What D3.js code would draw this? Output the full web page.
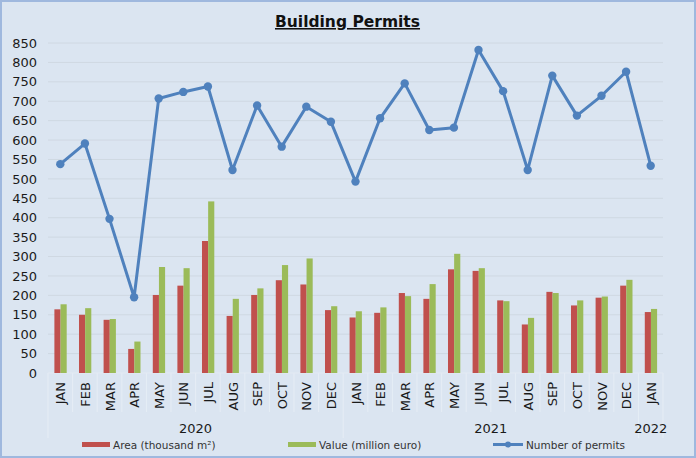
<!DOCTYPE html>
<html><head><meta charset="utf-8">
<script src="https://cdn.jsdelivr.net/npm/d3@7"></script>
<style>
html,body{margin:0;padding:0;background:#fff;}
svg{display:block;font-family:"DejaVu Sans",Verdana,sans-serif;}
</style></head>
<body>
<svg id="c" width="696" height="458"></svg>
<script>
const months = ["JAN","FEB","MAR","APR","MAY","JUN","JUL","AUG","SEP","OCT","NOV","DEC",
                "JAN","FEB","MAR","APR","MAY","JUN","JUL","AUG","SEP","OCT","NOV","DEC","JAN"];
const years = [{label:"2020", start:0, end:11},{label:"2021", start:12, end:23},{label:"2022", start:24, end:24}];
const area = [164,150,137,62,201,225,340,147,201,239,228,162,
              143,155,206,191,267,263,187,125,209,174,194,225,157];
const value = [177,167,139,81,273,270,442,191,218,278,295,172,
               159,169,198,229,307,270,185,142,206,187,197,240,165];
const permits = [538,591,397,195,707,724,738,523,689,583,686,647,
                 493,656,746,626,632,832,726,523,766,663,714,776,534];
const yTicks = d3.range(0, 851, 50);
const seriesNames = ["Area (thousand m²)","Value (million euro)","Number of permits"];
const colors = {area:"#c0504d", value:"#9bbb59", permits:"#4f81bd"};

const svg = d3.select("#c");
const W = 696, H = 458;
const L = 48, R = 663, T = 43, B = 373;

svg.append("rect").attr("x",1).attr("y",1).attr("width",W-2).attr("height",H-2)
  .attr("fill","#dbe5f1").attr("stroke","#9fb8de").attr("stroke-width",2);

const x = d3.scaleBand().domain(d3.range(months.length)).range([L,R]).paddingInner(0).paddingOuter(0);
const y = d3.scaleLinear().domain([0,850]).range([B,T]);
const bw = x.bandwidth();
const x1 = d3.scaleBand().domain(["area","value"]).range([bw*0.26, bw*0.76]);

// grid
svg.append("g").selectAll("line").data(yTicks.filter(d=>d>0)).join("line")
  .attr("x1",L).attr("x2",R).attr("y1",d=>y(d)).attr("y2",d=>y(d))
  .attr("stroke","#cfd8e2").attr("stroke-width",1);

// y axis labels
const yAxis = d3.axisLeft(y).tickValues(yTicks).tickSize(0).tickPadding(0);
const gy = svg.append("g").attr("transform",`translate(37,0)`).call(yAxis);
gy.select(".domain").remove();
gy.selectAll("text").attr("font-size",13).attr("fill","#1a1a1a")
  .attr("font-family","DejaVu Sans, Verdana, sans-serif");

// category separators
const sepCat = svg.append("g").attr("stroke","#e6edf5").attr("stroke-width",1);
d3.range(months.length+1).forEach(i=>{
  const xx = i<months.length ? x(i) : R;
  const isGroup = years.some(g=>g.start===i) || i===months.length;
  sepCat.append("line").attr("x1",xx).attr("x2",xx).attr("y1",B).attr("y2",isGroup?438:412);
});
svg.append("line").attr("x1",L).attr("x2",R).attr("y1",B).attr("y2",B).attr("stroke","#e3eaf3");

// bars
const gb = svg.append("g");
gb.selectAll(".a").data(area).join("rect").attr("class","a")
  .attr("x",(d,i)=>x(i)+x1("area")).attr("width",x1.bandwidth())
  .attr("y",d=>y(d)).attr("height",d=>B-y(d)).attr("fill",colors.area);
gb.selectAll(".v").data(value).join("rect").attr("class","v")
  .attr("x",(d,i)=>x(i)+x1("value")).attr("width",x1.bandwidth())
  .attr("y",d=>y(d)).attr("height",d=>B-y(d)).attr("fill",colors.value);

// line
const line = d3.line().x((d,i)=>x(i)+bw/2).y(d=>y(d));
svg.append("path").datum(permits).attr("d",line).attr("fill","none")
  .attr("stroke",colors.permits).attr("stroke-width",3).attr("stroke-linejoin","round");
svg.append("g").selectAll("circle").data(permits).join("circle")
  .attr("cx",(d,i)=>x(i)+bw/2).attr("cy",d=>y(d)).attr("r",4.2).attr("fill",colors.permits);

// month labels
svg.append("g").selectAll("text").data(months).join("text")
  .attr("transform",(d,i)=>`translate(${x(i)+bw/2+5},382) rotate(-90)`)
  .attr("text-anchor","end").attr("font-size",13).attr("fill","#1a1a1a").text(d=>d);

// year labels
svg.append("g").selectAll("text").data(years).join("text")
  .attr("x",d=>(x(d.start)+x(d.end)+bw)/2).attr("y",433)
  .attr("text-anchor","middle").attr("font-size",13).attr("fill","#1a1a1a").text(d=>d.label);

// title
svg.append("text").attr("x",347.5).attr("y",27).attr("text-anchor","middle")
  .attr("font-size",15.5).attr("font-weight","bold").attr("fill","#111")
  .attr("text-decoration","underline").text("Building Permits");

// legend
const lg = svg.append("g").attr("font-size",10.5).attr("fill","#333");
lg.append("rect").attr("x",82).attr("y",442).attr("width",28).attr("height",5).attr("fill",colors.area);
lg.append("text").attr("x",113).attr("y",448.5).text(seriesNames[0]);
lg.append("rect").attr("x",288).attr("y",442).attr("width",28).attr("height",5).attr("fill",colors.value);
lg.append("text").attr("x",319).attr("y",448.5).text(seriesNames[1]);
lg.append("line").attr("x1",493).attr("x2",523).attr("y1",444.5).attr("y2",444.5)
  .attr("stroke",colors.permits).attr("stroke-width",3);
lg.append("circle").attr("cx",508).attr("cy",444.5).attr("r",3).attr("fill",colors.permits);
lg.append("text").attr("x",526).attr("y",448.5).text(seriesNames[2]);
</script>
</body></html>
